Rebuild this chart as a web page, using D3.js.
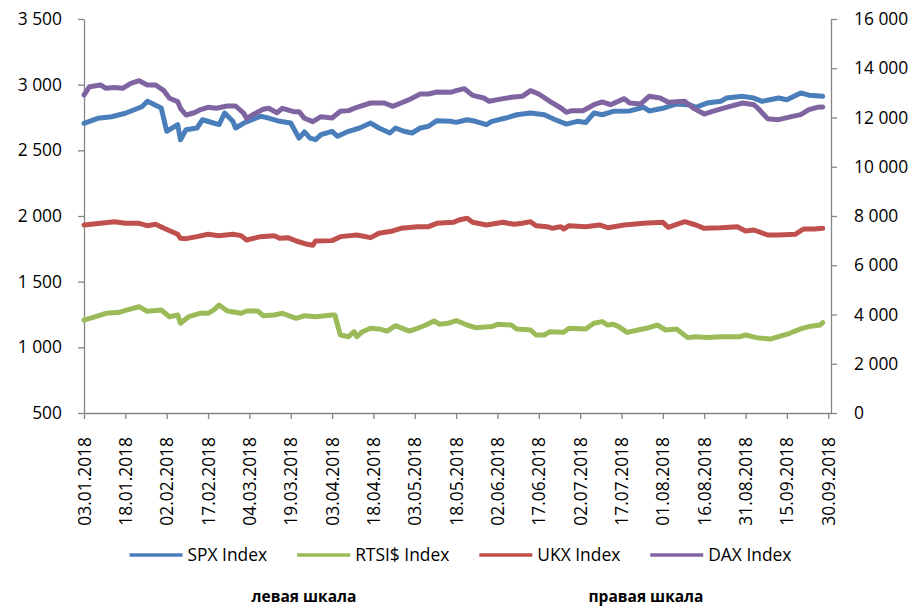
<!DOCTYPE html>
<html>
<head>
<meta charset="utf-8">
<script src="https://cdn.jsdelivr.net/npm/d3@7/dist/d3.min.js"></script>
<style>
  body { margin: 0; background: #ffffff; }
  svg text { font-family: "Open Sans", "Noto Sans", sans-serif; fill: #000; }
</style>
</head>
<body>
<svg id="chart" width="911" height="608"></svg>
<script>
// ---------------- DATA ----------------
const tickLabels = ["03.01.2018","18.01.2018","02.02.2018","17.02.2018","04.03.2018","19.03.2018",
  "03.04.2018","18.04.2018","03.05.2018","18.05.2018","02.06.2018","17.06.2018","02.07.2018",
  "17.07.2018","01.08.2018","16.08.2018","31.08.2018","15.09.2018","30.09.2018"];
const leftTicks = [500, 1000, 1500, 2000, 2500, 3000, 3500];
const rightTicks = [0, 2000, 4000, 6000, 8000, 10000, 12000, 14000, 16000];
const seriesNames = ["SPX Index", "RTSI$ Index", "UKX Index", "DAX Index"];
const seriesColors = ["#4a7ebb", "#9bbb59", "#c0504d", "#8064a2"];

const spxDates = ["03.01","08.01","13.01","18.01","21.01","24.01","26.01","31.01","02.02","06.02","07.02","09.02",
  "13.02","15.02","19.02","21.02","23.02","26.02","27.02","02.03","08.03","10.03","15.03","19.03","22.03","24.03",
  "26.03","28.03","30.03","03.04","05.04","09.04","13.04","17.04","20.04","24.04","26.04","29.04","02.05","05.05",
  "08.05","11.05","16.05","18.05","22.05","25.05","29.05","31.05","05.06","09.06","14.06","19.06","23.06","27.06",
  "01.07","04.07","07.07","10.07","14.07","20.07","25.07","27.07","01.08","06.08","11.08","13.08","17.08","22.08",
  "24.08","30.08","03.09","06.09","12.09","15.09","20.09","23.09","28.09"];
const spxValues = [2706,2744,2756,2782,2807,2832,2873,2823,2645,2695,2581,2657,
  2670,2733,2708,2695,2784,2721,2670,2708,2759,2751,2721,2708,2593,2640,
  2593,2581,2619,2645,2607,2645,2670,2708,2670,2632,2670,2645,2632,2670,
  2683,2726,2721,2713,2733,2721,2695,2721,2746,2771,2784,2771,2733,2700,
  2721,2712,2784,2771,2797,2800,2828,2800,2820,2853,2845,2828,2860,2873,
  2898,2911,2898,2873,2898,2885,2937,2920,2911];

const rtsDates = ["03.01","06.01","11.01","16.01","18.01","23.01","26.01","31.01","03.02","06.02","07.02","10.02",
  "14.02","17.02","19.02","21.02","24.02","01.03","03.03","07.03","09.03","13.03","16.03","21.03","24.03","28.03",
  "03.04","04.04","06.04","09.04","11.04","12.04","14.04","17.04","20.04","23.04","26.04","01.05","04.05","07.05",
  "10.05","12.05","15.05","18.05","22.05","25.05","31.05","02.06","07.06","09.06","14.06","16.06","19.06","21.06",
  "26.06","28.06","04.07","07.07","10.07","12.07","14.07","16.07","19.07","23.07","26.07","30.07","02.08","06.08",
  "10.08","13.08","17.08","22.08","29.08","31.08","04.09","09.09","12.09","16.09","20.09","23.09","27.09","28.09"];
const rtsValues = [1208,1226,1259,1267,1282,1309,1274,1284,1233,1246,1183,1233,
  1259,1259,1284,1322,1277,1259,1277,1277,1241,1246,1259,1221,1241,1233,
  1246,1246,1094,1081,1119,1081,1119,1145,1140,1124,1165,1124,1145,1170,
  1201,1175,1183,1204,1170,1150,1158,1175,1170,1140,1132,1094,1094,1119,
  1114,1145,1140,1183,1196,1170,1175,1158,1114,1132,1145,1170,1132,1140,
  1074,1081,1074,1081,1081,1094,1074,1063,1081,1107,1140,1158,1170,1188];

const ukxDates = ["03.01","09.01","14.01","18.01","23.01","26.01","29.01","01.02","06.02","07.02","09.02","13.02",
  "17.02","21.02","26.02","01.03","03.03","08.03","13.03","15.03","18.03","21.03","25.03","27.03","28.03","03.04",
  "06.04","12.04","17.04","20.04","25.04","28.04","04.05","08.05","11.05","17.05","19.05","22.05","24.05","29.05",
  "04.06","08.06","11.06","14.06","16.06","20.06","22.06","25.06","26.06","28.06","04.07","09.07","12.07","18.07",
  "25.07","01.08","03.08","06.08","09.08","13.08","16.08","22.08","28.08","31.08","03.09","08.09","12.09","18.09",
  "21.09","25.09","28.09"];
const ukxValues = [7635,7703,7770,7703,7703,7607,7662,7500,7256,7094,7080,7162,
  7256,7202,7256,7202,7025,7162,7202,7094,7121,6985,6850,6810,6985,7000,
  7162,7230,7121,7297,7391,7500,7567,7567,7703,7743,7838,7906,7743,7635,
  7743,7662,7703,7770,7607,7567,7500,7567,7472,7607,7567,7635,7526,7635,
  7703,7743,7540,7662,7770,7635,7500,7526,7567,7391,7432,7229,7229,7256,
  7472,7472,7500];

const daxDates = ["03.01","05.01","09.01","11.01","14.01","17.01","20.01","23.01","26.01","29.01","01.02","03.02",
  "06.02","07.02","09.02","12.02","14.02","17.02","20.02","24.02","27.02","02.03","03.03","05.03","09.03","11.03",
  "14.03","16.03","20.03","22.03","24.03","27.03","30.03","03.04","06.04","09.04","12.04","17.04","22.04","25.04",
  "28.04","01.05","05.05","08.05","11.05","16.05","18.05","21.05","24.05","28.05","30.05","02.06","07.06","11.06",
  "14.06","17.06","21.06","25.06","27.06","29.06","03.07","07.07","10.07","13.07","18.07","20.07","24.07","27.07",
  "31.07","03.08","09.08","12.08","16.08","19.08","24.08","30.08","03.09","05.09","08.09","12.09","17.09","20.09",
  "23.09","26.09","28.09"];
const daxValues = [12914,13251,13320,13184,13220,13184,13389,13495,13320,13320,13089,12780,
  12643,12373,12102,12193,12305,12414,12373,12467,12467,12170,11950,12102,12332,12373,
  12193,12373,12238,12238,11968,11830,12034,11980,12251,12279,12414,12589,12589,12454,
  12589,12725,12955,12955,13035,13022,13089,13170,12900,12792,12657,12725,12820,12860,
  13089,12955,12657,12386,12211,12279,12276,12520,12630,12520,12765,12590,12550,12861,
  12793,12616,12657,12386,12142,12251,12414,12589,12520,12317,11952,11911,12047,12115,
  12317,12414,12430];

// ---------------- CHART ----------------
(function () {
const svg = d3.select("#chart");
svg.append("rect").attr("width", 911).attr("height", 608).attr("fill", "#fff");

const parse = d3.timeParse("%d.%m.%Y");
const toDate = s => parse(s + ".2018");
const pLeft = 84, pRight = 831, pTop = 19, pBottom = 413;
const axisColor = "#868686";
const FS = 17.4;

const x = d3.scaleTime().domain([parse("03.01.2018"), parse("01.10.2018")]).range([pLeft, pRight]);
const yL = d3.scaleLinear().domain([500, 3500]).range([pBottom, pTop]);
const yR = d3.scaleLinear().domain([0, 16000]).range([pBottom, pTop]);

const loc = d3.formatLocale({decimal: ",", thousands: " ", grouping: [3], currency: ["", ""]});
const fmt = loc.format(",d");

function styleAxis(g) {
  g.attr("font-family", null).attr("font-size", null);
  g.select(".domain").attr("stroke", axisColor).attr("stroke-width", 1.3);
  g.selectAll(".tick line").attr("stroke", axisColor).attr("stroke-width", 1.3);
  g.selectAll(".tick text").attr("font-size", FS).attr("fill", "#000");
}

svg.append("g").attr("transform", `translate(${pLeft},0)`)
  .call(d3.axisLeft(yL).tickValues(leftTicks).tickFormat(fmt).tickSize(6).tickSizeOuter(0).tickPadding(16))
  .call(styleAxis);

svg.append("g").attr("transform", `translate(${pRight},0)`)
  .call(d3.axisRight(yR).tickValues(rightTicks).tickFormat(fmt).tickSize(6).tickSizeOuter(0).tickPadding(17))
  .call(styleAxis);

const xg = svg.append("g").attr("transform", `translate(0,${pBottom})`)
  .call(d3.axisBottom(x).tickValues(tickLabels.map(parse)).tickFormat(d3.timeFormat("%d.%m.%Y"))
    .tickSize(6).tickSizeOuter(0))
  .call(styleAxis);
xg.selectAll(".tick text")
  .attr("transform", "rotate(-90)")
  .attr("text-anchor", "end")
  .attr("x", -24)
  .attr("y", 0)
  .attr("dy", "0.35em");

const series = [
  {name: seriesNames[0], color: seriesColors[0], y: yL, dates: spxDates, values: spxValues},
  {name: seriesNames[1], color: seriesColors[1], y: yL, dates: rtsDates, values: rtsValues},
  {name: seriesNames[2], color: seriesColors[2], y: yR, dates: ukxDates, values: ukxValues},
  {name: seriesNames[3], color: seriesColors[3], y: yR, dates: daxDates, values: daxValues}
];
series.forEach(s => {
  const pts = s.dates.map((d, i) => ({date: toDate(d), v: s.values[i]}));
  const line = d3.line().x(d => x(d.date)).y(d => s.y(d.v));
  svg.append("path").datum(pts)
    .attr("d", line)
    .attr("fill", "none")
    .attr("stroke", s.color)
    .attr("stroke-width", 5)
    .attr("stroke-linejoin", "round")
    .attr("stroke-linecap", "round");
});

const legendY = 555, lineLen = 53, gapText = 5, gapItem = 30;
const lg = svg.append("g");
let cx = 0;
series.forEach(s => {
  const g = lg.append("g").attr("transform", `translate(${cx},0)`);
  g.append("line").attr("x1", 0).attr("x2", lineLen).attr("y1", legendY).attr("y2", legendY)
    .attr("stroke", s.color).attr("stroke-width", 3.5);
  const t = g.append("text").attr("x", lineLen + gapText).attr("y", legendY).attr("dy", "0.35em")
    .attr("font-size", FS).text(s.name);
  cx += lineLen + gapText + t.node().getComputedTextLength() + gapItem;
});
const totalW = cx - gapItem;
lg.attr("transform", `translate(${460.5 - totalW / 2},0)`);

svg.append("text").attr("x", 304).attr("y", 597).attr("dy", "0.35em").attr("text-anchor", "middle")
  .attr("font-size", 15.5).attr("font-weight", "bold").text("левая шкала");
svg.append("text").attr("x", 646).attr("y", 597).attr("dy", "0.35em").attr("text-anchor", "middle")
  .attr("font-size", 15.5).attr("font-weight", "bold").text("правая шкала");
})();
</script>
</body>
</html>
